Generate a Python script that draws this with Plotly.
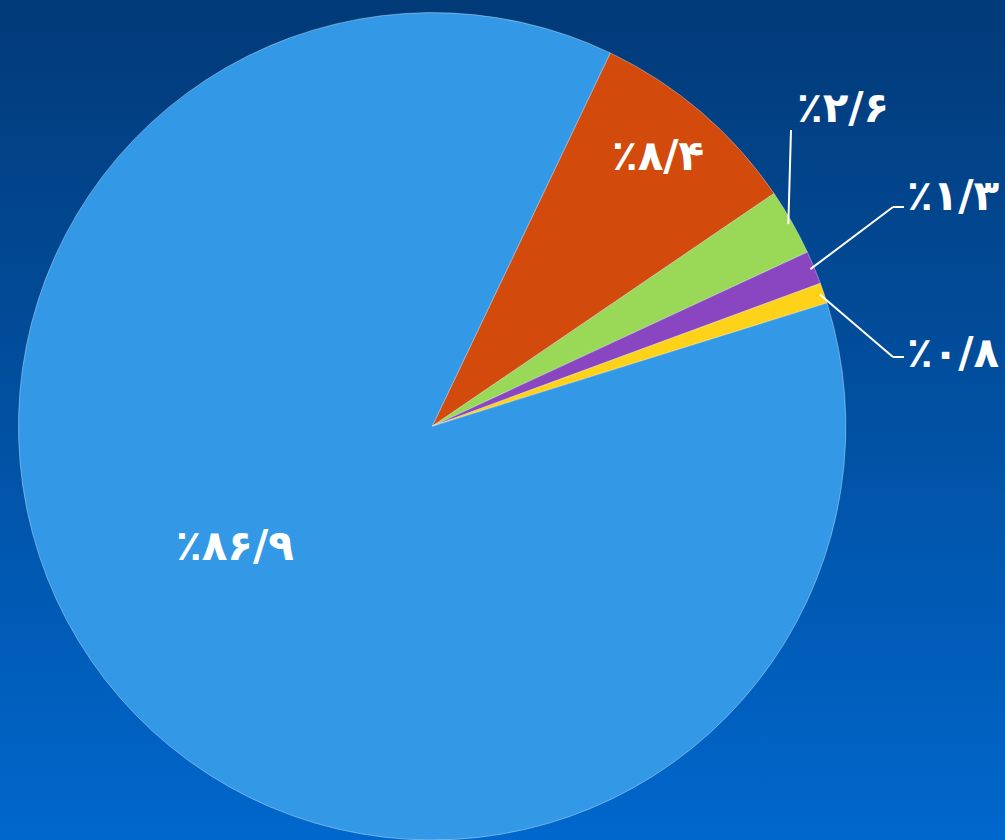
import base64
import math
import plotly.graph_objects as go

# ---- data (share in percent), clockwise starting with the orange slice ----
categories = ["B", "C", "D", "E", "A"]
values = [8.4, 2.6, 1.3, 0.8, 86.9]
labels = ["٪۸/۴", "٪۲/۶", "٪۱/۳", "٪۰/۸", "٪۸۶/۹"]
colors = ["#d24a0c", "#9ad957", "#8a45c0", "#ffd21a", "#3399e6"]

# ---- layout constants (pixels in a 1005 x 840 canvas) ----
W, H = 1005, 840
ROTATION = 25.5
DOMAIN_X = [0.0, 0.86]
DOMAIN_Y = [0.0, 0.985]
FONT_SIZE = 42
# label anchor positions (x, y, xanchor)
label_pos = [(658, 155, "center"), (843, 107, "center"), (905, 195, "left"),
             (905, 352, "left"), (235, 545, "center")]
# leader line: extra points after the slice-edge point (None = no leader)
leaders = [None, [(791, 130)], [(893, 207), (904, 207)], [(893, 357), (904, 357)], None]

svg = (
    '<svg xmlns="http://www.w3.org/2000/svg" width="1005" height="840" '
    'preserveAspectRatio="none">'
    '<defs><linearGradient id="g" x1="0" y1="0" x2="0" y2="1">'
    '<stop offset="0" stop-color="#023a78"/>'
    '<stop offset="1" stop-color="#0067cc"/>'
    '</linearGradient></defs>'
    '<rect width="1005" height="840" fill="url(#g)"/></svg>'
)
bg_uri = "data:image/svg+xml;base64," + base64.b64encode(svg.encode()).decode()

fig = go.Figure(
    go.Pie(
        labels=categories,
        values=values,
        textinfo="none",
        sort=False,
        direction="clockwise",
        rotation=ROTATION,
        marker=dict(colors=colors, line=dict(color="rgba(255,255,255,0.35)", width=1)),
        domain=dict(x=DOMAIN_X, y=DOMAIN_Y),
        showlegend=False,
        hoverinfo="label+percent",
    )
)

# pie geometry derived from the domain (as plotly computes it)
dw = (DOMAIN_X[1] - DOMAIN_X[0]) * W
dh = (DOMAIN_Y[1] - DOMAIN_Y[0]) * H
R = min(dw, dh) / 2
cx = (DOMAIN_X[0] + DOMAIN_X[1]) / 2 * W
cy = H - (DOMAIN_Y[0] + DOMAIN_Y[1]) / 2 * H

total = sum(values)
annotations = []
shapes = []
cum = 0.0
for v, txt, pos, lead in zip(values, labels, label_pos, leaders):
    mid = ROTATION + (cum + v / 2) / total * 360.0
    cum += v
    annotations.append(
        dict(
            x=pos[0] / W,
            y=1 - pos[1] / H,
            xref="paper",
            yref="paper",
            text=txt,
            showarrow=False,
            xanchor=pos[2],
            yanchor="middle",
            font=dict(family="DejaVu Sans", size=FONT_SIZE, color="white", weight="bold"),
        )
    )
    if lead:
        a = math.radians(mid)
        ex = cx + R * 0.99 * math.sin(a)
        ey = cy - R * 0.99 * math.cos(a)
        pts = [(ex, ey)] + lead
        for (x0, y0), (x1, y1) in zip(pts[:-1], pts[1:]):
            shapes.append(
                dict(
                    type="line",
                    xref="paper",
                    yref="paper",
                    x0=x0 / W,
                    y0=1 - y0 / H,
                    x1=x1 / W,
                    y1=1 - y1 / H,
                    line=dict(color="white", width=2),
                )
            )

fig.update_layout(
    width=W,
    height=H,
    margin=dict(l=0, r=0, t=0, b=0),
    paper_bgcolor="#0350a0",
    plot_bgcolor="rgba(0,0,0,0)",
    annotations=annotations,
    shapes=shapes,
    images=[
        dict(
            source=bg_uri,
            xref="paper",
            yref="paper",
            x=0,
            y=1,
            sizex=1,
            sizey=1,
            sizing="stretch",
            layer="below",
        )
    ],
)

fig.write_html(
    "out.html",
    config={"displayModeBar": False},
    post_script="document.body.style.margin='0';document.body.style.overflow='hidden';",
)
